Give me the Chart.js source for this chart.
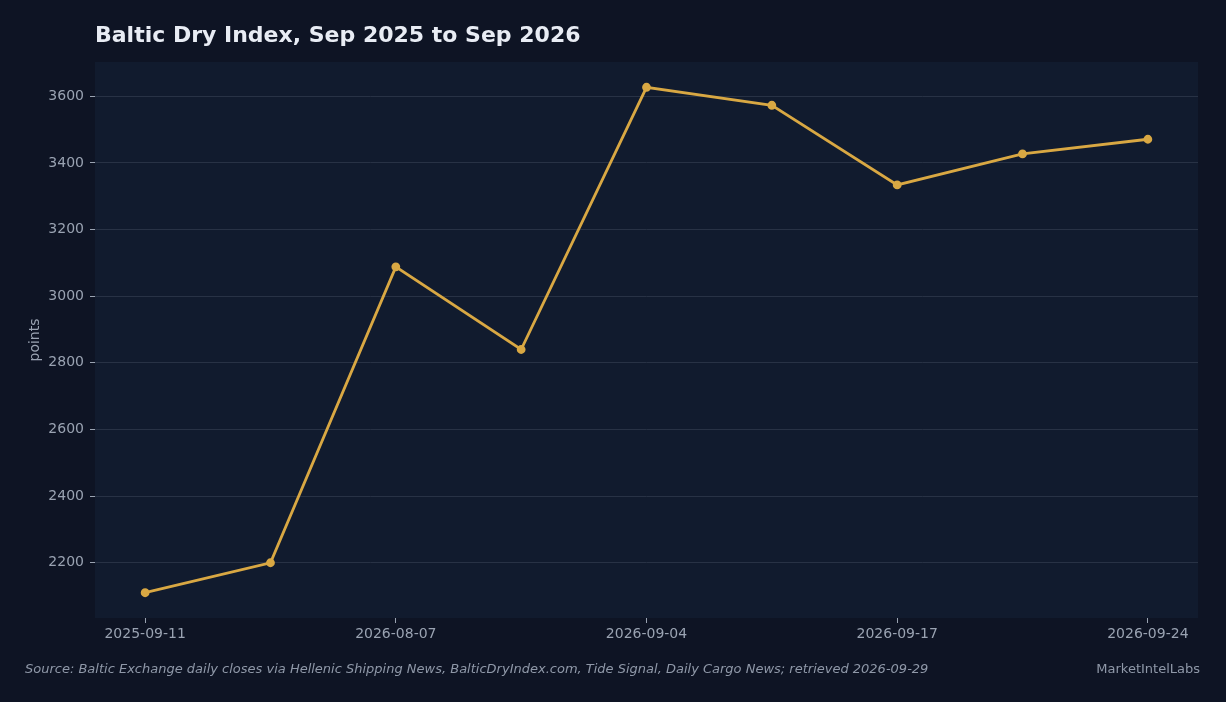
<!DOCTYPE html>
<html>
<head>
<meta charset="utf-8">
<script src="https://cdn.jsdelivr.net/npm/chart.js@4.4.0/dist/chart.umd.min.js"></script>
<style>
  html, body { margin: 0; padding: 0; background: #0e1424; width: 1226px; height: 702px; overflow: hidden; }
  #wrap { position: absolute; left: 0; top: 0; width: 1226px; height: 702px; }
  #title { position: absolute; left: 95px; top: 22px; font: bold 22px "DejaVu Sans", sans-serif; color: #e8ecf4; white-space: nowrap; }
  #source { position: absolute; left: 25px; top: 661px; font: italic 13px "DejaVu Sans", sans-serif; color: #8f98a8; white-space: nowrap; }
  #brand { position: absolute; right: 26px; top: 661px; font: 13px "DejaVu Sans", sans-serif; color: #8f98a8; white-space: nowrap; }
</style>
</head>
<body>
<div id="wrap"><canvas id="c" width="1226" height="702"></canvas></div>
<div id="title">Baltic Dry Index, Sep 2025 to Sep 2026</div>
<div id="source">Source: Baltic Exchange daily closes via Hellenic Shipping News, BalticDryIndex.com, Tide Signal, Daily Cargo News; retrieved 2026-09-29</div>
<div id="brand">MarketIntelLabs</div>
<script>
const dates = ["2025-09-11", "2026-07-31", "2026-08-07", "2026-08-21", "2026-09-04", "2026-09-10", "2026-09-17", "2026-09-22", "2026-09-24"];
const bdiValues = [2110, 2200, 3088, 2840, 3627, 3573, 3334, 3427, 3471];
const xTickIndices = [0, 2, 4, 6, 8];
const yTicks = [2200, 2400, 2600, 2800, 3000, 3200, 3400, 3600];

const dMin = Math.min(...bdiValues), dMax = Math.max(...bdiValues);
const pad = (dMax - dMin) * 0.05;

const plotBg = {
  id: 'plotBg',
  beforeDraw(chart) {
    const a = chart.chartArea, ctx = chart.ctx;
    ctx.save();
    ctx.fillStyle = '#111b2e';
    ctx.fillRect(a.left, a.top, a.right - a.left, a.bottom - a.top);
    ctx.restore();
  }
};

new Chart(document.getElementById('c'), {
  type: 'line',
  data: {
    datasets: [{
      label: 'BDI',
      data: dates.map((d, i) => ({ x: i, y: bdiValues[i] })),
      borderColor: '#d9a843',
      backgroundColor: '#d9a843',
      borderWidth: 2.8,
      pointRadius: 3,
      pointHoverRadius: 4,
      tension: 0,
      fill: false
    }]
  },
  options: {
    responsive: false,
    animation: false,
    layout: { padding: { left: 0, top: 62, right: 28, bottom: 0 } },
    plugins: { legend: { display: false }, title: { display: false }, tooltip: { enabled: false } },
    scales: {
      x: {
        type: 'linear',
        min: -0.4,
        max: dates.length - 1 + 0.4,
        afterBuildTicks(scale) { scale.ticks = xTickIndices.map(v => ({ value: v })); },
        afterFit(scale) { scale.height = 84; },
        grid: { drawOnChartArea: false, drawTicks: true, tickLength: 5, tickColor: '#9aa3b2', tickWidth: 1 },
        border: { display: false },
        ticks: {
          color: '#9aa3b2',
          font: { family: '"DejaVu Sans", sans-serif', size: 14 },
          padding: 3,
          maxRotation: 0,
          autoSkip: false,
          callback: (v) => dates[v]
        }
      },
      y: {
        type: 'linear',
        min: dMin - pad,
        max: dMax + pad,
        afterBuildTicks(scale) { scale.ticks = yTicks.map(v => ({ value: v })); },
        afterFit(scale) { scale.width = 95; },
        grid: { color: '#283245', lineWidth: 1, drawTicks: true, tickLength: 5, tickColor: '#9aa3b2' },
        border: { display: false },
        title: {
          display: true,
          text: 'points',
          color: '#9aa3b2',
          font: { family: '"DejaVu Sans", sans-serif', size: 14 },
          padding: { top: 27, bottom: 0 }
        },
        ticks: {
          color: '#9aa3b2',
          font: { family: '"DejaVu Sans", sans-serif', size: 14 },
          padding: 6,
          callback: (v) => String(v)
        }
      }
    }
  },
  plugins: [plotBg]
});
</script>
</body>
</html>
